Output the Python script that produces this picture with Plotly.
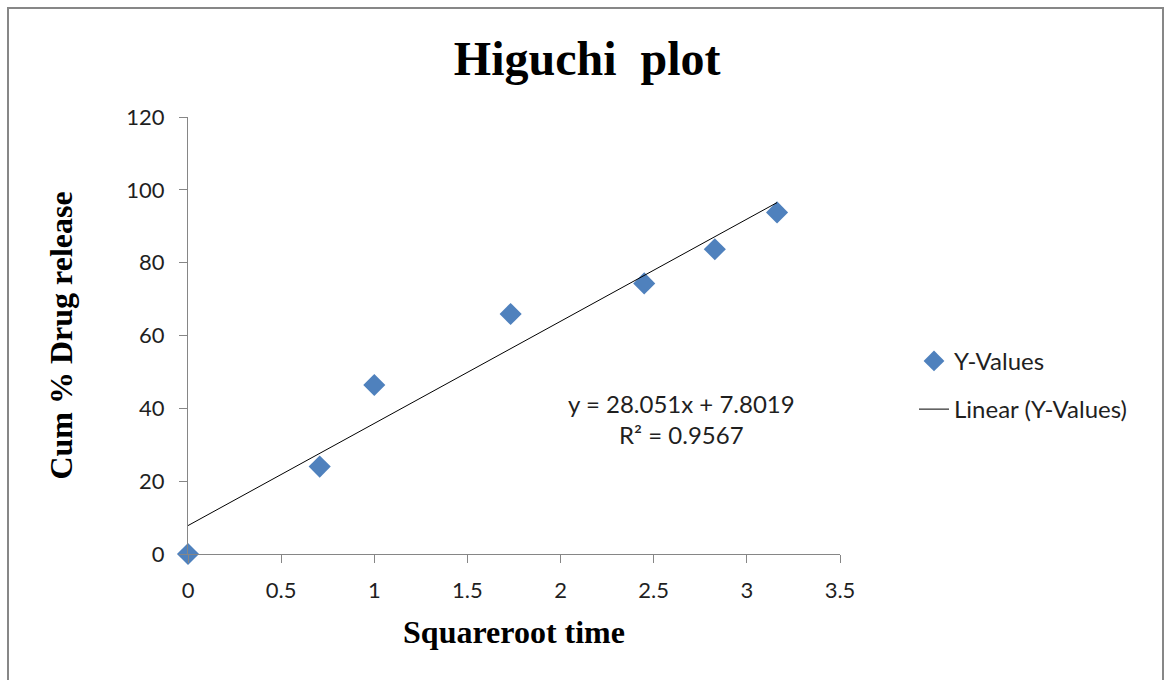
import numpy as np
import plotly.graph_objects as go

# Square root of time and cumulative % drug released
sqrt_time = [0, 0.707, 1.0, 1.732, 2.449, 2.828, 3.162]
cum_release = [0, 24.0, 46.4, 65.9, 74.3, 83.7, 93.8]

# Linear trendline coefficients
slope = 28.051
intercept = 7.8019
r_squared = 0.9567

x_ticks = [0, 0.5, 1, 1.5, 2, 2.5, 3, 3.5]
y_ticks = [0, 20, 40, 60, 80, 100, 120]

fit_x = [sqrt_time[0], sqrt_time[-1]]
fit_y = [intercept + slope * v for v in fit_x]

sans = "Lato, Carlito, Calibri, sans-serif"
tick_font = dict(family=sans, size=22, color="#1f1f1f")
text_font = dict(family=sans, size=24, color="#1f1f1f")
serif_bold = "Liberation Serif, Times New Roman, serif"

fig = go.Figure()
fig.add_trace(go.Scatter(
    x=sqrt_time, y=cum_release, mode="markers", name="Y-Values",
    legendgroup="a",
    marker=dict(symbol="diamond", size=17, color="#4F81BD"),
    cliponaxis=False,
))
fig.add_trace(go.Scatter(
    x=fit_x, y=fit_y, mode="lines", name="Linear (Y-Values)",
    legendgroup="b",
    line=dict(color="#000000", width=1),
    cliponaxis=False,
))

axis_common = dict(
    showgrid=False, zeroline=False, showline=True, linecolor="#868686", linewidth=1,
    ticks="outside", ticklen=8, tickcolor="#868686", tickwidth=1,
    tickfont=tick_font,
)

fig.update_layout(
    width=1165, height=680,
    margin=dict(l=188, r=325, t=117, b=126),
    paper_bgcolor="white", plot_bgcolor="white",
    title=dict(text="<b>Higuchi  plot</b>", x=0.504, xanchor="center", y=0.915, yanchor="middle",
               font=dict(family=serif_bold, size=48, color="#000000")),
    xaxis=dict(range=[0, 3.5], tickvals=x_ticks, ticktext=[str(t) for t in x_ticks],
               ticklabelstandoff=9,
               title=dict(text="<b>Squareroot time</b>", font=dict(family=serif_bold, size=32, color="#000000"), standoff=18),
               **axis_common),
    yaxis=dict(range=[0, 120], tickvals=y_ticks, ticklabelstandoff=10,
               title=dict(text="<b>Cum % Drug release</b>", font=dict(family=serif_bold, size=32, color="#000000"), standoff=44),
               **axis_common),
    legend=dict(x=1.1135, y=0.386, xanchor="left", yanchor="middle", font=text_font,
                traceorder="grouped", tracegroupgap=14, bgcolor="rgba(0,0,0,0)"),
    showlegend=True,
)

# Regression equation and R² annotation
fig.add_annotation(
    x=2.65, y=37.2, xref="x", yref="y", showarrow=False,
    text=f"y = {slope}x + {intercept}<br>R² = {r_squared}",
    font=text_font, align="center",
)

# Outer chart border
pw, ph = 1165 - 188 - 325, 680 - 117 - 126
fig.add_shape(type="rect", xref="paper", yref="paper",
              x0=(8 - 188) / pw, x1=(1163 - 188) / pw,
              y0=(554 - 690) / ph, y1=(554 - 8) / ph,
              line=dict(color="#878787", width=2), layer="below")

fig.write_html("out.html")
